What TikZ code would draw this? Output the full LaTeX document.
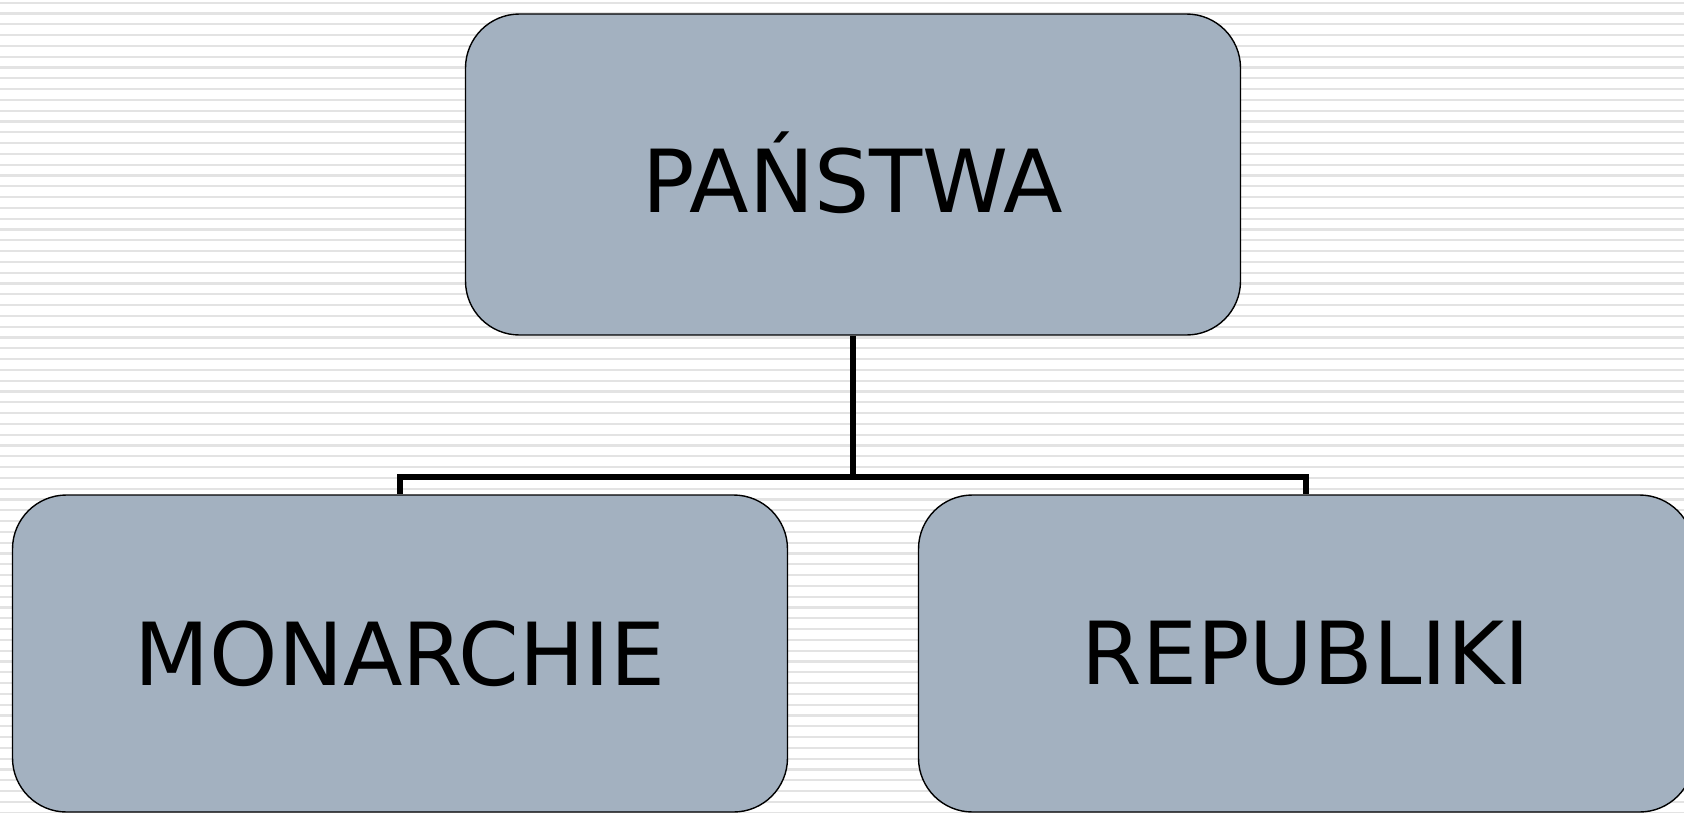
\documentclass[tikz,border=0pt]{standalone}
\usepackage{fontspec}
\setmainfont{DejaVu Sans}
\definecolor{boxfill}{HTML}{A3B1C0}
\definecolor{stripe}{HTML}{E3E3E3}
\begin{document}
\begin{tikzpicture}[x=1pt,y=-1pt,
  box/.style={draw, rectangle, rounded corners=54pt, fill=boxfill, line width=1.4pt,
    minimum width=775pt, font=\fontsize{87}{100}\selectfont}]
\useasboundingbox (0,0) rectangle (1684,812);
\clip (0,0) rectangle (1684,812);
\fill[white] (0,0) rectangle (1684,812);
\foreach \k in {0,...,75}
  \draw[stripe, line width=2.2pt] (0,2.7+10.8*\k) -- (1684,2.7+10.8*\k);

\node[box, minimum height=321pt] (pan) at (853,174.5) {\raisebox{4pt}{PAŃSTWA}};
\node[box, minimum height=317pt] (mon) at (400,653.5) {\raisebox{-4pt}{MONARCHIE}};
\node[box, minimum height=317pt] (rep) at (1306,653.5) {\raisebox{-4pt}{REPUBLIKI}};
\coordinate (split) at (853,477);

\path[draw,line width=5.5pt] (pan.south) -- (split);
\path[draw,line width=5.5pt] (split) -| (mon.north);
\path[draw,line width=5.5pt] (split) -| (rep.north);
\end{tikzpicture}
\end{document}
